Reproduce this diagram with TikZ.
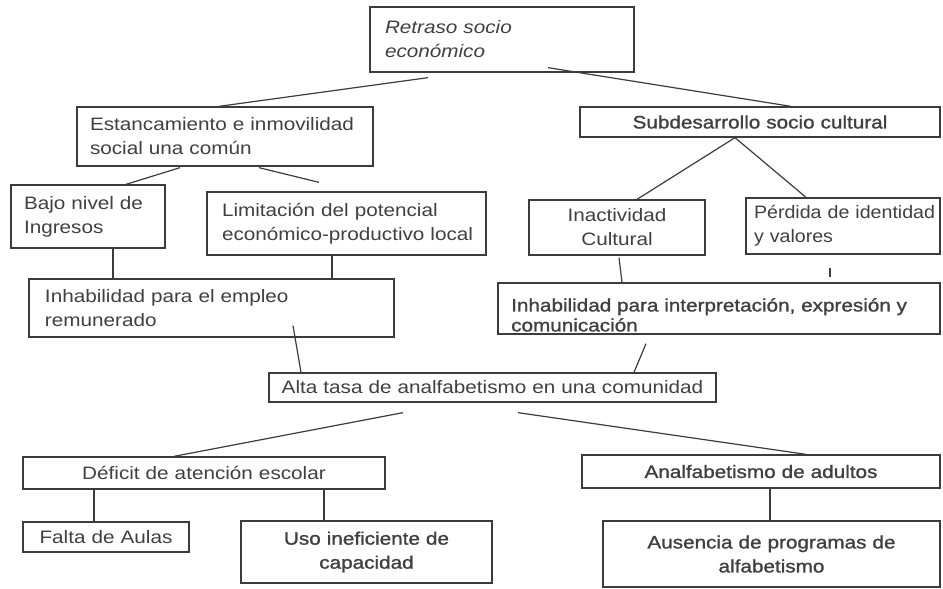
\documentclass[tikz,border=0pt]{standalone}
\usepackage{fontspec}
\setmainfont{Liberation Sans}[FakeStretch=1.15]
\newfontfamily\darkfont{Liberation Sans}[FakeStretch=1.15,FakeBold=1.2]
\newfontfamily\narrowfont{Liberation Sans}[FakeStretch=1.09]
\usetikzlibrary{calc}
\definecolor{boxc}{HTML}{3C3C3C}
\definecolor{txtc}{HTML}{404040}
\tikzset{
  box/.style={draw=boxc, line width=1.3pt, inner ysep=0pt, text=txtc,
    font=\fontsize{18pt}{24pt}\selectfont},
  lbox/.style={box, align=left},
  cbox/.style={box, align=center, inner xsep=0pt},
  link/.style={draw=boxc, line width=1.2pt}
}
\begin{document}
\begin{tikzpicture}[x=1pt,y=-1pt]
\useasboundingbox[fill=white] (0,0) rectangle (943,589);

% boxes
\node[lbox, inner xsep=15pt, text width=234pt, minimum height=65pt] (ret) at (502,39.5)
  {\itshape\mbox{Retraso socio}\\\mbox{económico}};
\node[lbox, inner xsep=13pt, text width=270pt, minimum height=59pt] (est) at (225,136.5)
  {\mbox{Estancamiento e inmovilidad}\\\mbox{social una común}};
\node[cbox, text width=360pt, minimum height=30pt] (sub) at (760,122)
  {\darkfont Subdesarrollo socio cultural};
\node[lbox, inner xsep=13pt, text width=128pt, minimum height=63pt] (bajo) at (88,216.5)
  {\mbox{Bajo nivel de}\\\mbox{Ingresos}};
\node[lbox, inner xsep=15pt, text width=249pt, minimum height=63pt] (lim) at (346.5,223.5)
  {\mbox{Limitación del potencial}\\\mbox{económico-productivo local}};
\node[cbox, text width=176pt, minimum height=55pt] (inac) at (617,227.5)
  {Inactividad\\Cultural};
\node[lbox, inner xsep=8pt, text width=178pt, minimum height=56pt] (perd) at (843,226)
  {\narrowfont\mbox{Pérdida de identidad}\\\mbox{y valores}};
\node[lbox, inner xsep=16pt, text width=333pt, minimum height=58pt] (emp) at (211.5,308)
  {\mbox{Inhabilidad para el empleo}\\\mbox{remunerado}};
\node[box, minimum width=442pt, minimum height=51pt] (interp) at (719,308.5) {};
\node[anchor=north west, inner sep=0pt, align=left, text=txtc,
  font=\darkfont\fontsize{18pt}{20pt}\selectfont] (interptxt) at (511,298)
  {Inhabilidad para interpretación, expresión y\\comunicación};
\node[cbox, text width=447pt, minimum height=29pt] (alta) at (492.5,387.5)
  {Alta tasa de analfabetismo en una comunidad};
\node[cbox, text width=362pt, minimum height=32pt] (def) at (204,473)
  {Déficit de atención escolar};
\node[cbox, text width=358pt, minimum height=33pt] (adu) at (761,471.5)
  {\darkfont Analfabetismo de adultos};
\node[cbox, text width=166pt, minimum height=30pt] (falta) at (106,537)
  {Falta de Aulas};
\node[cbox, text width=251pt, minimum height=62pt] (uso) at (366.5,552)
  {\darkfont Uso ineficiente de\\\darkfont capacidad};
\node[cbox, text width=337pt, minimum height=66pt] (aus) at (771.5,554)
  {\darkfont Ausencia de programas de\\\darkfont alfabetismo};

% connectors
\draw[link] ($(ret.south)+(-74,5)$) -- ($(est.north)+(-6,0)$);
\draw[link] ($(ret.south)+(46,-5)$) -- ($(sub.north)+(31,0)$);
\draw[link] ($(sub.south)+(-25,0)$) -- ($(inac.north)+(20,0)$);
\draw[link] ($(sub.south)+(-25,0)$) -- ($(perd.north)+(-37,0)$);
\draw[link] ($(est.south)+(-45,1)$) -- ($(bajo.north)+(38,0)$);
\draw[link] ($(est.south)+(34,1)$) -- ($(lim.north)+(-27.5,-9)$);
\draw[link] ($(bajo.south)+(25,0)$) -- ($(emp.north)+(-98.5,0)$);
\draw[link] ($(lim.south)+(-14.5,0)$) -- ($(emp.north)+(120.5,0)$);
\draw[link] ($(inac.south)+(2,2)$) -- ($(interp.north)+(-97,0)$);
\draw[link] ($(perd.south)+(-13,13)$) -- ($(interp.north)+(111,-5)$);
\draw[link] ($(emp.south)+(81.5,-12)$) -- ($(alta.north)+(-191.5,0)$);
\draw[link] ($(interp.south)+(-73,9)$) -- ($(alta.north)+(141.5,0)$);
\draw[link] ($(alta.south)+(-89.5,10)$) -- ($(def.north)+(-30,0)$);
\draw[link] ($(alta.south)+(25.5,10)$) -- ($(adu.north)+(45,0)$);
\draw[link] ($(def.south)+(-110,0)$) -- ($(falta.north)+(-12,0)$);
\draw[link] ($(def.south)+(120,0)$) -- ($(uso.north)+(-42.5,0)$);
\draw[link] ($(adu.south)+(9,0)$) -- ($(aus.north)+(-1.5,0)$);
\end{tikzpicture}
\end{document}
